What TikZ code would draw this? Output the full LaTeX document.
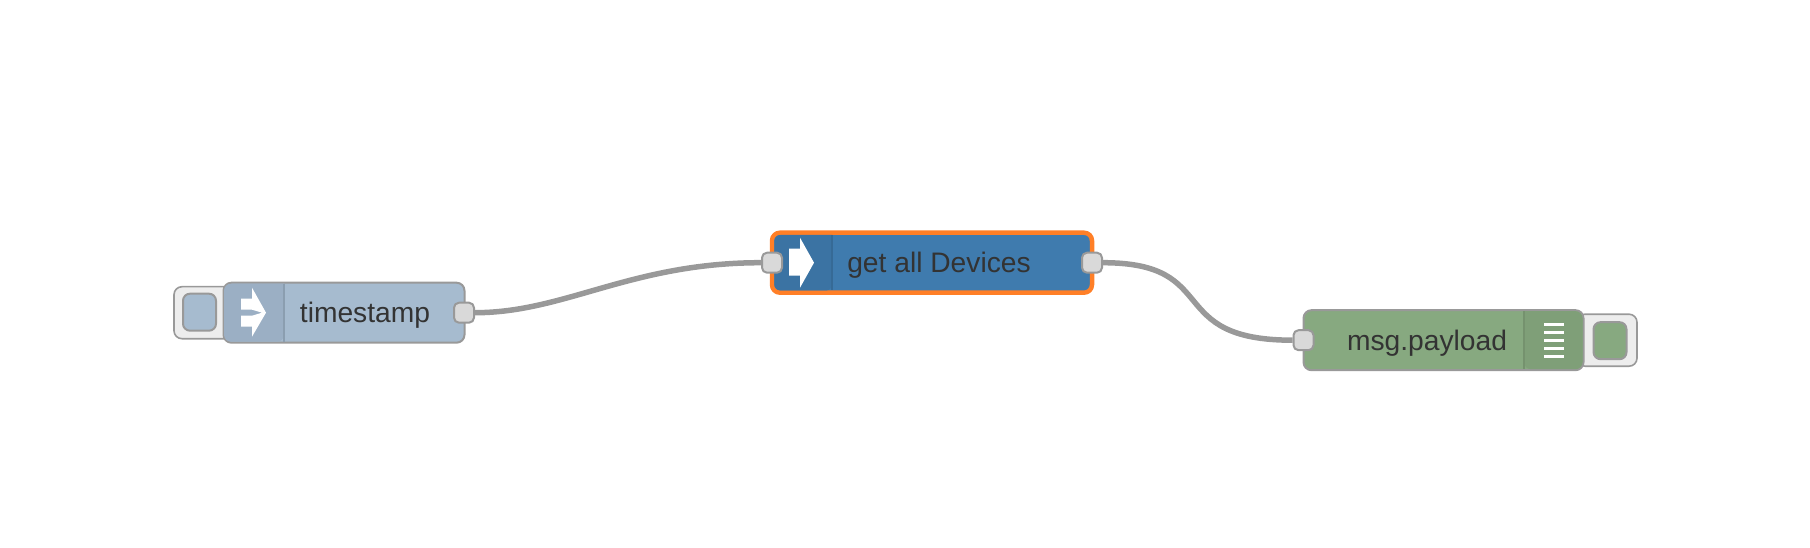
\documentclass[tikz,border=0pt]{standalone}
\usepackage{fontspec}
\setmainfont{Liberation Sans}
\usetikzlibrary{positioning, calc}
\definecolor{tsblue}{HTML}{A6BBCF}
\definecolor{tsdark}{HTML}{9BAFC4}
\definecolor{devblue}{HTML}{3F7BAE}
\definecolor{devdark}{HTML}{3B73A3}
\definecolor{dbggreen}{HTML}{87A980}
\definecolor{dbgdark}{HTML}{7F9F78}
\definecolor{selorange}{HTML}{FF7F27}
\definecolor{linegray}{HTML}{999999}
\definecolor{labelgray}{HTML}{333333}

\begin{document}
\begin{tikzpicture}[x=1pt, y=-1pt, line join=round,
		body/.style={rectangle, rounded corners=8, draw=linegray, line width=2, inner sep=0, minimum height=60},
		port/.style={rectangle, rounded corners=5, draw=linegray, line width=2, fill=black!15, inner sep=0, minimum width=20, minimum height=20},
		btnbox/.style={rectangle, rounded corners=8, draw=linegray, line width=1.6, fill=black!7, inner sep=0, minimum height=52},
		btnfill/.style={rectangle, rounded corners=7, draw=linegray, line width=2, inner sep=0, minimum width=33, minimum height=37},
		lbl/.style={anchor=base, text=labelgray, font=\fontsize{28.2}{30}\selectfont, inner sep=0},
		wire/.style={draw=linegray, line width=5.5}]
		\useasboundingbox (0,-0.7) rectangle (1810,547.3);
		% inject node
		\node[btnbox, minimum width=60] (tsbtn) at (204,312) {};
		\node[btnfill, fill=tsblue] (tsbtnfill) at (199.5,311.5) {};
		\node[body, fill=tsblue, minimum width=241] (timestamp) at (344,312) {};
		\fill[tsdark, rounded corners=7] (284,283) -- (224,283) -- (224,341) -- (284,341) [sharp corners] -- cycle;
		\draw[tsdark!90!black, line width=1.5] (284,283) -- (284,341);
		\fill[white] (241,298) -- (252,298) -- (252,287) -- (266,312) -- (252,336) -- (252,326) -- (241,326) -- (241,315) -- (252,315) -- (262,312) -- (252,309) -- (241,309) -- cycle;
		\node[lbl] (tslbl) at (365,322) {timestamp};
		\node[port] (tsout) at (464,312) {};
		% function node, selected
		\node[body, fill=devblue, draw=selorange, line width=4.5, minimum width=320] (devices) at (932,262) {};
		\fill[devdark, rounded corners=6] (832,234.3) -- (774.3,234.3) -- (774.3,289.7) -- (832,289.7) [sharp corners] -- cycle;
		\draw[devdark!92!black, line width=1.2] (832,234.3) -- (832,289.7);
		\fill[white] (789,248) -- (800,248) -- (800,237) -- (814,262) -- (800,287) -- (800,275) -- (789,275) -- cycle;
		\node[lbl] (devlbl) at (939,272) {get all Devices};
		\node[port] (devin) at (772,262) {};
		\node[port] (devout) at (1092,262) {};
		% debug node
		\node[btnbox, minimum width=60] (dbgbtn) at (1607,339.5) {};
		\node[btnfill, fill=dbggreen] (dbgbtnfill) at (1610,340) {};
		\node[body, fill=dbggreen, minimum width=280] (payload) at (1443.5,339.5) {};
		\fill[dbgdark, rounded corners=7] (1524,310.5) -- (1582.5,310.5) -- (1582.5,368.5) -- (1524,368.5) [sharp corners] -- cycle;
		\draw[dbgdark!92!black, line width=1.5] (1524,310.5) -- (1524,368.5);
		\foreach \ypos in {324,332,340,348,356}
			\fill[white] (1544,\ypos-1.5) rectangle (1564,\ypos+1.5);
		\node[lbl] (dbglbl) at (1427,350) {msg.payload};
		\node[port] (dbgin) at (1303.5,339.5) {};
		% wires
		\draw[wire] (tsout.east) .. controls +(90,0) and +(-130,0) .. (devin.west);
		\draw[wire] (devout.east) .. controls +(120,0) and +(-130,0) .. (dbgin.west);
	\end{tikzpicture}
\end{document}
